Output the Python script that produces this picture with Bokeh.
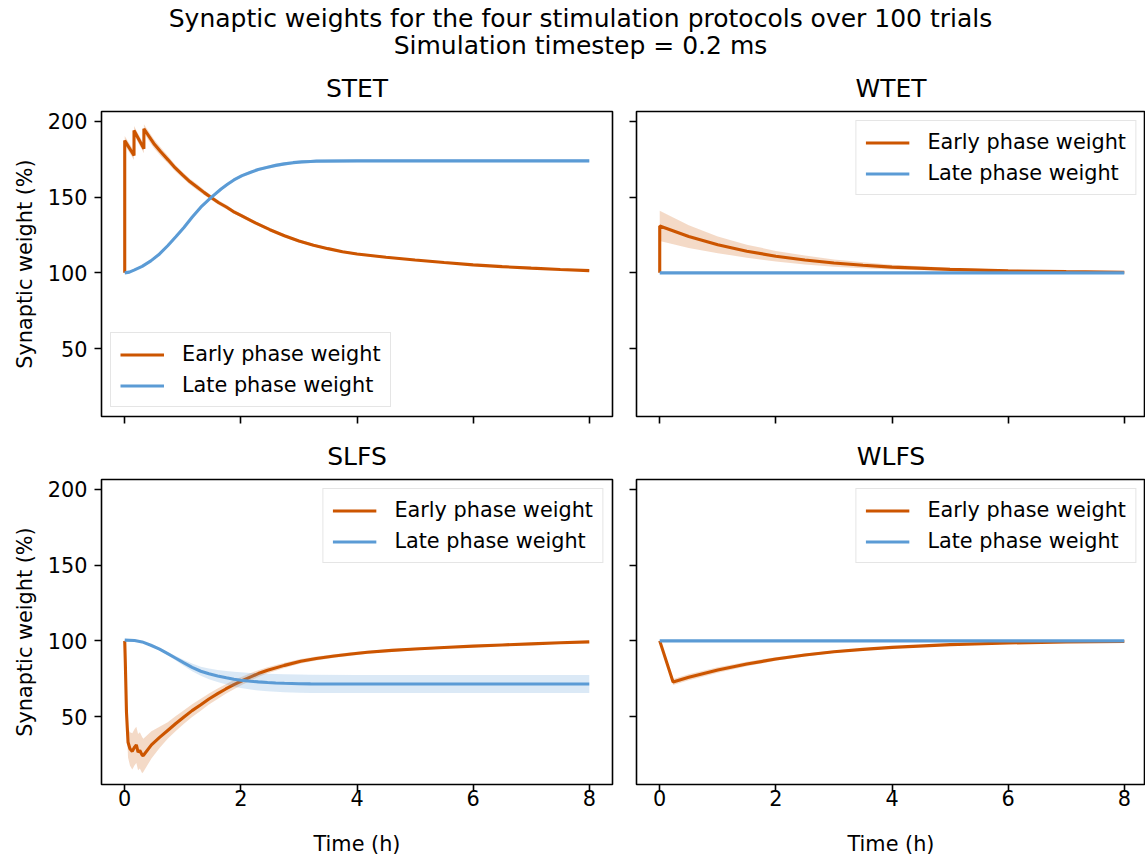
from bokeh.plotting import figure
from bokeh.layouts import column, row
from bokeh.models import (Range1d, FixedTicker, CustomJSTickFormatter, Legend,
                          LegendItem)
from bokeh.core.properties import value
from bokeh.embed import file_html
from bokeh.resources import INLINE

FONT = "DejaVu Sans"
EARLY_COLOR = "#cc5500"
LATE_COLOR = "#5b9bd5"

suptitle_lines = ["Synaptic weights for the four stimulation protocols over 100 trials",
                  "Simulation timestep = 0.2 ms"]
panel_titles = ["STET", "WTET", "SLFS", "WLFS"]
legend_labels = ["Early phase weight", "Late phase weight"]
x_label = "Time (h)"
y_label = "Synaptic weight (%)"
x_ticks = [0, 2, 4, 6, 8]
y_ticks = [50, 100, 150, 200]

# ---------------- STET ----------------
stet_early_t = [0, 0, 0.16, 0.16, 0.33, 0.33, 0.5, 0.62, 0.75, 0.87, 1.0, 1.12, 1.25,
                1.37, 1.5, 1.62, 1.75, 1.87, 2.0, 2.25, 2.5, 2.75, 3.0, 3.25, 3.5, 3.75,
                4.0, 4.5, 5.0, 5.5, 6.0, 6.5, 7.0, 7.5, 8.0]
stet_early_v = [100, 187.4, 177.5, 194.0, 182.0, 195.2, 185.5, 180.0, 174.5, 169.3,
                164.5, 160.3, 156.5, 153.0, 149.5, 146.3, 143.5, 140.5, 138.0, 133.0,
                128.5, 124.5, 121.0, 118.3, 116.0, 114.0, 112.5, 110.3, 108.5, 106.8,
                105.3, 104.1, 103.1, 102.2, 101.5]
stet_early_s = [0, 3, 3, 3, 3, 3, 3, 2.8, 2.5, 2.2, 2, 2, 2, 1.8, 1.5, 1.5, 1.5, 1.3,
                1.2, 1.1, 1, 1, 1, 0.9, 0.8, 0.8, 0.7, 0.6, 0.5, 0.5, 0.5, 0.5, 0.5,
                0.5, 0.5]
stet_late_t = [0, 0.08, 0.16, 0.3, 0.45, 0.6, 0.74, 0.88, 1.02, 1.16, 1.31, 1.48, 1.66,
               1.77, 1.88, 2.02, 2.17, 2.3, 2.46, 2.6, 2.75, 2.9, 3.05, 3.2, 3.3, 4.0,
               5.0, 6.0, 7.0, 8.0]
stet_late_v = [100, 100.5, 101.8, 104.3, 107.9, 112.5, 117.9, 123.8, 130.0, 136.7,
               143.4, 149.5, 155.4, 158.5, 161.4, 164.2, 166.5, 168.3, 169.8, 171.0,
               172.0, 172.8, 173.3, 173.6, 173.8, 174.0, 174.0, 174.0, 174.0, 174.0]
stet_late_s = [0, 0.1, 0.2, 0.4, 0.6, 0.8, 1, 1, 1, 1, 1, 1, 1, 1, 1, 1, 1, 1, 1, 1, 1,
               1, 1, 1, 1, 1, 1, 1, 1, 1]

# ---------------- WTET ----------------
wtet_early_t = [0, 0, 0.5, 1.0, 1.5, 2.0, 2.5, 3.0, 3.5, 4.0, 5.0, 6.0, 7.0, 8.0]
wtet_early_v = [100, 131.0, 124.0, 118.5, 114.3, 111.0, 108.5, 106.5, 105.0, 103.8,
                102.3, 101.3, 100.8, 100.4]
wtet_early_s = [0, 10, 7.5, 5.5, 4.3, 3.5, 3, 2.4, 2, 1.6, 1.1, 0.8, 0.5, 0.4]
wtet_late_t = [0, 8.0]
wtet_late_v = [100, 100]
wtet_late_s = [0, 0]

# ---------------- SLFS ----------------
slfs_early_t = [0, 0.01, 0.03, 0.057, 0.09, 0.13, 0.17, 0.2, 0.23, 0.26, 0.3, 0.32,
                0.46, 0.6, 0.74, 0.88, 1.02, 1.16, 1.31, 1.45, 1.6, 1.74, 1.88, 2.03,
                2.17, 2.3, 2.46, 2.75, 3.03, 3.3, 3.61, 3.9, 4.18, 4.6, 5.0, 5.5, 6.0,
                6.5, 7.0, 7.5, 8.0]
slfs_early_v = [100, 86, 53, 33, 28.7, 27.0, 29.8, 31.3, 26.5, 27.6, 24.5, 24.3, 31.3,
                36.2, 40.8, 45.4, 49.7, 53.9, 57.8, 61.6, 65.1, 68.2, 71.1, 73.8, 76.2,
                78.4, 80.6, 83.8, 86.5, 88.4, 90.0, 91.3, 92.5, 93.7, 94.6, 95.6, 96.5,
                97.3, 98.0, 98.7, 99.3]
slfs_early_s = [0, 3, 6, 10, 11, 12, 12, 12, 12, 12, 12, 11, 9, 7, 5.5, 5, 4.5, 4.2, 4,
                3.7, 3.5, 3.2, 3, 2.7, 2.5, 2.2, 2, 1.7, 1.5, 1.3, 1.2, 1.1, 1, 0.9,
                0.8, 0.7, 0.6, 0.6, 0.5, 0.5, 0.5]
slfs_late_t = [0, 0.17, 0.3, 0.45, 0.6, 0.74, 0.88, 1.02, 1.16, 1.31, 1.45, 1.6, 1.75,
               1.88, 2.0, 2.17, 2.3, 2.46, 2.6, 2.75, 3.0, 3.2, 4.0, 5.0, 6.0, 7.0, 8.0]
slfs_late_v = [100.5, 100.2, 99.3, 97.1, 94.5, 91.6, 88.5, 85.4, 82.5, 79.9, 78.2, 76.8,
               75.6, 74.6, 74.0, 73.3, 72.9, 72.5, 72.2, 72.0, 71.7, 71.6, 71.5, 71.5,
               71.5, 71.5, 71.5]
slfs_late_s = [0, 0.3, 0.4, 0.6, 0.8, 1, 1.5, 2, 2.5, 3, 3.5, 4, 4.5, 5, 5.2, 5.5, 5.7,
               5.8, 5.9, 6, 6, 6, 6, 6, 6, 6, 6]

# ---------------- WLFS ----------------
wlfs_early_t = [0, 0.23, 0.5, 1.0, 1.5, 2.0, 2.5, 3.0, 3.5, 4.0, 5.0, 6.0, 7.0, 8.0]
wlfs_early_v = [100, 72.8, 76.0, 80.8, 84.7, 88.0, 90.7, 92.8, 94.4, 95.7, 97.5, 98.6,
                99.2, 99.6]
wlfs_early_s = [0, 2, 2, 1.8, 1.5, 1.2, 1, 0.8, 0.7, 0.6, 0.5, 0.4, 0.3, 0.3]
wlfs_late_t = [0, 8.0]
wlfs_late_v = [100, 100]
wlfs_late_s = [0, 0]

X_START, Y_START, Y_END = -0.4, 5.1, 206.6
PX_PER_H = 511 / 8.8


def empty_formatter():
    return CustomJSTickFormatter(code="return ''")


def make_panel(title, early, late, left, bottom, legend_loc):
    fw = 511 if left else 509
    x_end = X_START + fw / PX_PER_H
    p = figure(frame_width=fw, frame_height=305,
               x_range=Range1d(X_START, x_end), y_range=Range1d(Y_START, Y_END),
               output_backend="svg", toolbar_location=None,
               min_border_left=101 if left else 12,
               min_border_right=12 if left else 0,
               min_border_top=51 if not bottom else 49,
               min_border_bottom=72 if bottom else 14)
    p.title.text = title
    p.title.align = "center"
    p.title.text_font = FONT
    p.title.text_font_size = "25px"
    p.title.text_font_style = "normal"
    p.title.text_color = "black"
    p.title.standoff = 17
    p.xgrid.visible = False
    p.ygrid.visible = False
    p.outline_line_color = "black"
    p.outline_line_width = 1.6
    p.outline_line_alpha = 1
    p.background_fill_color = "white"
    p.border_fill_color = "white"

    for ax in (p.xaxis[0], p.yaxis[0]):
        ax.axis_line_color = None
        ax.major_tick_out = 7
        ax.major_tick_in = 0
        ax.minor_tick_line_color = None
        ax.major_tick_line_color = "black"
        ax.major_tick_line_width = 1.6
        ax.major_label_text_font = FONT
        ax.major_label_text_font_size = "20.8px"
        ax.major_label_text_color = "black"
        ax.major_label_standoff = 7
        ax.axis_label_text_font = FONT
        ax.axis_label_text_font_size = "20.8px"
        ax.axis_label_text_font_style = "normal"
        ax.axis_label_text_color = "black"
        ax.axis_label_standoff = 8
    p.xaxis[0].ticker = FixedTicker(ticks=x_ticks)
    p.yaxis[0].ticker = FixedTicker(ticks=y_ticks)
    if left:
        p.yaxis[0].axis_label = y_label
    else:
        p.yaxis[0].formatter = empty_formatter()
        p.yaxis[0].major_label_standoff = 0
    if bottom:
        p.xaxis[0].axis_label = x_label
        p.xaxis[0].major_label_standoff = -2
        p.xaxis[0].axis_label_standoff = 23
    else:
        p.xaxis[0].formatter = empty_formatter()
        p.xaxis[0].major_label_standoff = 0

    renderers = []
    for (t, v, s), color in ((early, EARLY_COLOR), (late, LATE_COLOR)):
        lo = [a - b for a, b in zip(v, s)]
        hi = [a + b for a, b in zip(v, s)]
        p.varea(x=t, y1=lo, y2=hi, fill_color=color, fill_alpha=0.22)
        r = p.line(x=t, y=v, line_color=color, line_width=3.1)
        renderers.append(r)

    legend = Legend(items=[LegendItem(label=legend_labels[0], renderers=[renderers[0]]),
                           LegendItem(label=legend_labels[1], renderers=[renderers[1]])],
                    location=legend_loc,
                    label_text_font=FONT, label_text_font_size="20.8px",
                    label_text_color="black",
                    glyph_width=44, glyph_height=21, label_height=21,
                    label_standoff=18, spacing=7, padding=9, margin=9,
                    border_line_color="#cccccc", border_line_width=1.3,
                    background_fill_color="white", background_fill_alpha=0.8)
    p.add_layout(legend)
    return p


header = figure(width=1145, height=60, x_range=Range1d(0, 1145), y_range=Range1d(0, 60),
                output_backend="svg", toolbar_location=None, min_border=0,
                x_axis_type=None, y_axis_type=None)
header.outline_line_color = None
header.xgrid.visible = False
header.ygrid.visible = False
header.text(x=[580, 580], y=[42, 15], text=suptitle_lines,
            text_align="center", text_baseline="middle",
            text_font=value(FONT), text_font_size="25px", text_color="black")

p1 = make_panel(panel_titles[0], (stet_early_t, stet_early_v, stet_early_s),
                (stet_late_t, stet_late_v, stet_late_s), True, False, "bottom_left")
p2 = make_panel(panel_titles[1], (wtet_early_t, wtet_early_v, wtet_early_s),
                (wtet_late_t, wtet_late_v, wtet_late_s), False, False, "top_right")
p3 = make_panel(panel_titles[2], (slfs_early_t, slfs_early_v, slfs_early_s),
                (slfs_late_t, slfs_late_v, slfs_late_s), True, True, "top_right")
p4 = make_panel(panel_titles[3], (wlfs_early_t, wlfs_early_v, wlfs_early_s),
                (wlfs_late_t, wlfs_late_v, wlfs_late_s), False, True, "top_right")

layout = column(header, row(p1, p2), row(p3, p4))
open("out.html", "w").write(file_html(layout, INLINE))
